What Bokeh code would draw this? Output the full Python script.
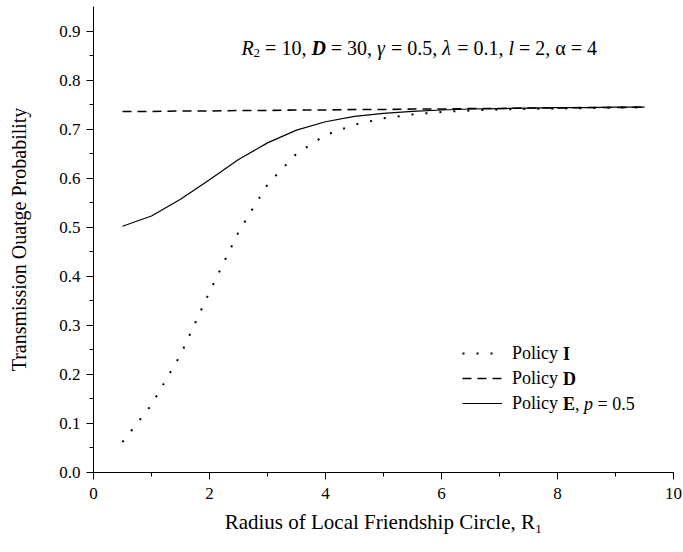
from bokeh.plotting import figure
from bokeh.models import Range1d, FixedTicker, PrintfTickFormatter, Label, Legend, LegendItem
from bokeh.embed import file_html
from bokeh.resources import INLINE

# ---- data ----
r1 = [0.5, 1.0, 1.5, 2.0, 2.5, 3.0, 3.5, 4.0, 4.5, 5.0, 5.5, 6.0, 6.5, 7.0, 7.5, 8.0, 8.5, 9.0, 9.5]
policy_i = [0.062, 0.138, 0.240, 0.368, 0.490, 0.587, 0.650, 0.688, 0.709, 0.722,
            0.730, 0.735, 0.738, 0.740, 0.741, 0.742, 0.743, 0.744, 0.744]
policy_d = [0.736, 0.736, 0.737, 0.737, 0.738, 0.738, 0.739, 0.739, 0.740, 0.740,
            0.741, 0.741, 0.742, 0.742, 0.743, 0.743, 0.744, 0.744, 0.745]
policy_e = [0.502, 0.523, 0.557, 0.597, 0.638, 0.672, 0.698, 0.715, 0.726, 0.732,
            0.736, 0.739, 0.741, 0.742, 0.743, 0.744, 0.744, 0.745, 0.745]
x_ticks = [0, 2, 4, 6, 8, 10]
x_minor = [1, 3, 5, 7, 9]
y_ticks = [0.0, 0.1, 0.2, 0.3, 0.4, 0.5, 0.6, 0.7, 0.8, 0.9]
y_minor = [0.05, 0.15, 0.25, 0.35, 0.45, 0.55, 0.65, 0.75, 0.85]
# (text, style, space before)
legend_suffix = [[("I", "bold", 1)],
                 [("D", "bold", 1)],
                 [("E", "bold", 1), (",", "normal", 0), ("p", "italic", 1), ("= 0.5", "normal", 1)]]

FONT = "Liberation Serif"
X0, X1, Y0, Y1 = 0, 10, 0, 0.95
W_FIG, H_FIG = 683, 552
B_L, B_R, B_T, B_B = 93, 10, 6, 80
frame_w = W_FIG - B_L - B_R
frame_h = H_FIG - B_T - B_B
px_x = frame_w / (X1 - X0)
px_y = frame_h / (Y1 - Y0)

p = figure(width=W_FIG, height=H_FIG, output_backend="svg", toolbar_location=None,
           x_range=Range1d(X0, X1), y_range=Range1d(Y0, Y1),
           min_border_left=B_L, min_border_right=B_R, min_border_top=B_T, min_border_bottom=B_B)
p.outline_line_color = None
p.xgrid.grid_line_color = None
p.ygrid.grid_line_color = None
p.background_fill_color = "white"
p.border_fill_color = "white"

for ax in (p.xaxis[0], p.yaxis[0]):
    ax.axis_line_color = "black"
    ax.axis_line_width = 1
    ax.major_tick_line_color = "black"
    ax.minor_tick_line_color = "black"
    ax.major_tick_in = 0
    ax.major_tick_out = 7
    ax.minor_tick_in = 0
    ax.minor_tick_out = 4
    ax.major_label_text_font = FONT
    ax.major_label_text_font_size = "17px"
    ax.major_label_text_color = "black"
    ax.axis_label_text_font = FONT
    ax.axis_label_text_font_style = "normal"
    ax.axis_label_text_color = "black"

p.xaxis.axis_label_text_font_size = "21px"
p.yaxis.axis_label_text_font_size = "20px"
p.xaxis.ticker = FixedTicker(ticks=x_ticks, minor_ticks=x_minor)
p.yaxis.ticker = FixedTicker(ticks=y_ticks, minor_ticks=y_minor)
p.xaxis.formatter = PrintfTickFormatter(format="%d")
p.yaxis.formatter = PrintfTickFormatter(format="%.1f")
p.xaxis.major_label_standoff = 8
p.yaxis.major_label_standoff = 6
p.xaxis.axis_label = "Radius of Local Friendship Circle, R\u2081"
p.yaxis.axis_label = "Transmission Ouatge Probability"
p.xaxis.axis_label_standoff = 8
p.yaxis.axis_label_standoff = 26

r_i = p.line(r1, policy_i, line_color="black", line_width=2, line_dash="2 12")
r_d = p.line(r1, policy_d, line_color="black", line_width=1.6, line_dash="9 6")
r_e = p.line(r1, policy_e, line_color="black", line_width=1.2)

# legend: samples + "Policy" from Bokeh's legend, styled suffixes as labels
LEG_X, LEG_Y, GW, GH, SP, STAND, LFS = 369, 58, 40, 22, 3, 10, 18
legend = Legend(items=[LegendItem(label="Policy", renderers=[r_i]),
                       LegendItem(label="Policy", renderers=[r_d]),
                       LegendItem(label="Policy", renderers=[r_e])],
                location=(LEG_X, LEG_Y), padding=0, margin=0, spacing=SP,
                glyph_width=GW, glyph_height=GH, label_height=GH, label_standoff=STAND,
                border_line_color=None, background_fill_alpha=0,
                label_text_font=FONT, label_text_font_size=f"{LFS}px", label_text_color="black")
p.add_layout(legend)

W = {' ': 250, ',': 250, '.': 250, '=': 564, 'R': 611, 'D': 722, 'l': 278, 'P': 556,
     'o': 500, 'i': 278, 'c': 444, 'y': 500, 'I': 389, 'E': 667, 'p': 500,
     '\u03b3': 440, '\u03bb': 500, '\u03b1': 540}
def tw(s, size):
    return sum(W.get(c, 500) for c in s) / 1000.0 * size

lab_x = X0 + (LEG_X + GW + STAND) / px_x
n_rows = len(legend_suffix)
for k, parts in enumerate(legend_suffix):
    row_from_bottom = n_rows - 1 - k
    cy = Y0 + (LEG_Y + row_from_bottom * (GH + SP) + GH / 2) / px_y
    pos = tw("Policy", LFS)
    for text, style, gap in parts:
        pos += gap * 0.25 * LFS
        p.add_layout(Label(x=lab_x, y=cy, x_offset=pos, text=text, text_font=FONT,
                           text_font_style=style, text_font_size=f"{LFS}px",
                           text_color="black", text_baseline="middle", text_align="left"))
        pos += tw(text, LFS)

# ---- parameter annotation, built from styled pieces ----
fs = 20
sub = 13
pieces = [("R", "italic", fs, 0, 0), ("2", "normal", sub, -5, 1),
          ("= 10,", "normal", fs, 0, 1), ("D", "bold italic", fs, 0, 1),
          ("= 30,", "normal", fs, 0, 1), ("\u03b3", "italic", fs, 0, 1),
          ("= 0.5,", "normal", fs, 0, 1), ("\u03bb", "italic", fs, 0, 1),
          ("= 0.1,", "normal", fs, 0, 1), ("l", "italic", fs, 0, 1),
          ("= 2, \u03b1 = 4", "normal", fs, 0, 0)]
ann_x, ann_y = 2.55, 0.865
pos = 0.0
for text, style, size, dy, space_after in pieces:
    p.add_layout(Label(x=ann_x, y=ann_y, x_offset=pos, y_offset=dy, text=text,
                       text_font=FONT, text_font_style=style, text_font_size=f"{size}px",
                       text_color="black", text_baseline="alphabetic", text_align="left"))
    pos += tw(text, size) + space_after * 0.25 * fs

open("out.html", "w").write(file_html(p, INLINE))
